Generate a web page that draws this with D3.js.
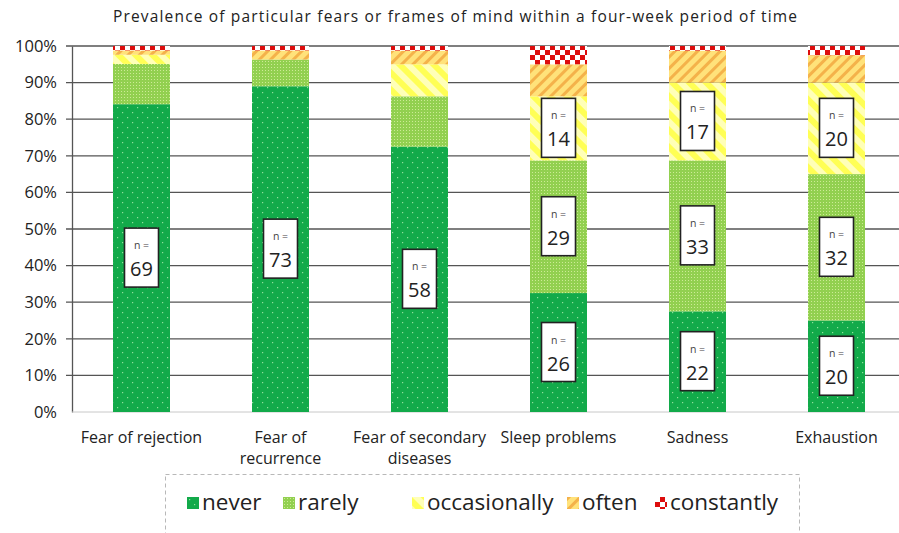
<!DOCTYPE html>
<html>
<head>
<meta charset="utf-8">
<script src="https://cdn.jsdelivr.net/npm/d3@7"></script>
<style>
  body { margin: 0; background: #fff; }
  svg { font-family: "Open Sans", Lato, sans-serif; }
</style>
</head>
<body>
<div id="chart"></div>
<script>
const categories = ["Fear of rejection", "Fear of recurrence", "Fear of secondary diseases", "Sleep problems", "Sadness", "Exhaustion"]
const categoryLines = [["Fear of rejection"], ["Fear of", "recurrence"], ["Fear of secondary", "diseases"], ["Sleep problems"], ["Sadness"], ["Exhaustion"]]
const seriesNames = ["never", "rarely", "occasionally", "often", "constantly"]

// shares in percent
const never        = [84.1, 89.0, 72.5, 32.5, 27.5, 25.0]
const rarely       = [11.0,  7.3, 13.75, 36.25, 41.25, 40.0]
const occasionally = [ 2.5,  0.0,  8.75, 17.5, 21.25, 25.0]
const often        = [ 1.2,  2.5,  3.75,  8.75,  8.75,  7.5]
const constantly   = [ 1.2,  1.2,  1.25,  5.0,   1.25,  2.5]

// n labels: [series, values]
const nLabels = [
  ["never", [69, 73, 58, 26, 22, 20]],
  ["rarely", [null, null, null, 29, 33, 32]],
  ["occasionally", [null, null, null, 14, 17, 20]]
]
const yTicks = [0, 10, 20, 30, 40, 50, 60, 70, 80, 90, 100]

const width = 899, height = 533
const margin = {left: 72, right: -7, top: 46, bottom: 121}

const table = categories.map((c, i) => ({
  category: c,
  never: never[i], rarely: rarely[i], occasionally: occasionally[i],
  often: often[i], constantly: constantly[i]
}))

const svg = d3.select("#chart").append("svg")
  .attr("width", width)
  .attr("height", height)

// fill patterns
const defs = svg.append("defs")

const pNever = defs.append("pattern").attr("id", "p-never")
  .attr("patternUnits", "userSpaceOnUse").attr("width", 10).attr("height", 10)
pNever.append("rect").attr("width", 10).attr("height", 10).attr("fill", "#12aa4a")
pNever.append("rect").attr("x", 2).attr("y", 2).attr("width", 1.2).attr("height", 1.2).attr("fill", "#8fe09a")
pNever.append("rect").attr("x", 7).attr("y", 7).attr("width", 1.2).attr("height", 1.2).attr("fill", "#8fe09a")

const pRarely = defs.append("pattern").attr("id", "p-rarely")
  .attr("patternUnits", "userSpaceOnUse").attr("width", 3).attr("height", 3)
pRarely.append("rect").attr("width", 3).attr("height", 3).attr("fill", "#92d050")
pRarely.append("rect").attr("x", 1).attr("y", 1).attr("width", 1).attr("height", 1).attr("fill", "#cdeb96")

const pOcc = defs.append("pattern").attr("id", "p-occasionally")
  .attr("patternUnits", "userSpaceOnUse").attr("width", 12).attr("height", 12)
  .attr("patternTransform", "rotate(-45)")
pOcc.append("rect").attr("width", 12).attr("height", 12).attr("fill", "#ffff55")
pOcc.append("rect").attr("width", 6).attr("height", 12).attr("fill", "#ffffb8")

const pOften = defs.append("pattern").attr("id", "p-often")
  .attr("patternUnits", "userSpaceOnUse").attr("width", 8).attr("height", 8)
  .attr("patternTransform", "rotate(45)")
pOften.append("rect").attr("width", 8).attr("height", 8).attr("fill", "#ffe27a")
pOften.append("rect").attr("width", 3).attr("height", 8).attr("fill", "#f4b24a")

const pConst = defs.append("pattern").attr("id", "p-constantly")
  .attr("patternUnits", "userSpaceOnUse").attr("width", 10).attr("height", 10)
pConst.append("rect").attr("width", 10).attr("height", 10).attr("fill", "#dd0d0d")
pConst.append("rect").attr("x", 0).attr("y", 0).attr("width", 5).attr("height", 5).attr("fill", "#fff")
pConst.append("rect").attr("x", 5).attr("y", 5).attr("width", 5).attr("height", 5).attr("fill", "#fff")

const x = d3.scaleBand()
  .domain(categories)
  .range([margin.left, width - margin.right])
  .paddingInner(0.59)
  .paddingOuter(0.295)

const y = d3.scaleLinear()
  .domain([0, 100])
  .range([height - margin.bottom, margin.top])

// title
svg.append("text")
  .attr("x", 455)
  .attr("y", 22)
  .attr("text-anchor", "middle")
  .attr("font-size", 15.5)
  .attr("fill", "#222")
  .attr("textLength", 684)
  .attr("lengthAdjust", "spacing")
  .text("Prevalence of particular fears or frames of mind within a four-week period of time")

// gridlines
svg.append("g")
  .selectAll("line")
  .data(yTicks.filter(d => d > 0))
  .join("line")
  .attr("x1", margin.left - 6)
  .attr("x2", width)
  .attr("y1", d => y(d))
  .attr("y2", d => y(d))
  .attr("stroke", "#555")
  .attr("stroke-width", 1.3)

// y axis
const yAxis = d3.axisLeft(y)
  .tickValues(yTicks)
  .tickFormat(d => d + "%")
  .tickSize(0)
  .tickPadding(15)

svg.append("g")
  .attr("transform", `translate(${margin.left},0)`)
  .call(yAxis)
  .call(g => g.select(".domain").attr("stroke", "#555").attr("stroke-width", 1.3))
  .call(g => g.selectAll("text").attr("font-size", 16.5).attr("fill", "#222").attr("font-family", "'Open Sans', sans-serif"))

// bottom baseline
svg.append("line")
  .attr("x1", margin.left)
  .attr("x2", width)
  .attr("y1", y(0))
  .attr("y2", y(0))
  .attr("stroke", "#c8c8c8")
  .attr("stroke-width", 1)

// stacked bars
const stacked = d3.stack().keys(seriesNames)(table)

svg.append("g")
  .selectAll("g")
  .data(stacked)
  .join("g")
  .attr("fill", d => `url(#p-${d.key})`)
  .selectAll("rect")
  .data(d => d)
  .join("rect")
  .attr("x", d => x(d.data.category))
  .attr("y", d => y(d[1]))
  .attr("width", x.bandwidth())
  .attr("height", d => y(d[0]) - y(d[1]))

// n label boxes
nLabels.forEach(([key, counts]) => {
  const layer = stacked.find(s => s.key === key)
  counts.forEach((n, i) => {
    if (n == null) return
    const seg = layer[i]
    const cx = x(categories[i]) + x.bandwidth() / 2
    const cy = (y(seg[0]) + y(seg[1])) / 2
    const g = svg.append("g").attr("transform", `translate(${cx},${cy})`)
    g.append("rect")
      .attr("x", -17)
      .attr("y", -30)
      .attr("width", 34)
      .attr("height", 59)
      .attr("fill", "#fff")
      .attr("stroke", "#222")
      .attr("stroke-width", 1.6)
    g.append("text")
      .attr("y", -9)
      .attr("text-anchor", "middle")
      .attr("font-size", 10.5)
      .attr("fill", "#444")
      .text("n =")
    g.append("text")
      .attr("y", 18)
      .attr("text-anchor", "middle")
      .attr("font-size", 20)
      .attr("fill", "#222")
      .text(n)
  })
})

// category labels
const xLabels = svg.append("g")
  .selectAll("text")
  .data(categories)
  .join("text")
  .attr("x", d => x(d) + x.bandwidth() / 2)
  .attr("y", 443)
  .attr("text-anchor", "middle")
  .attr("font-size", 16)
  .attr("fill", "#222")

xLabels.selectAll("tspan")
  .data((d, i) => categoryLines[i])
  .join("tspan")
  .attr("x", function () { return this.parentNode.getAttribute("x") })
  .attr("dy", (d, i) => i === 0 ? 0 : 21)
  .text(d => d)

// legend
svg.append("rect")
  .attr("x", 165.5)
  .attr("y", 474.5)
  .attr("width", 634)
  .attr("height", 62)
  .attr("fill", "none")
  .attr("stroke", "#b8b8b8")
  .attr("stroke-dasharray", "4,3")

const legendX = [187, 283, 412, 567, 655]
const legend = svg.append("g")
  .selectAll("g")
  .data(seriesNames)
  .join("g")
  .attr("transform", (d, i) => `translate(${legendX[i]},497)`)

legend.append("rect")
  .attr("width", 12)
  .attr("height", 12)
  .attr("fill", d => `url(#p-${d})`)

legend.append("text")
  .attr("x", 15)
  .attr("y", 13)
  .attr("font-size", 22.5)
  .attr("fill", "#222")
  .text(d => d)
</script>
</body>
</html>
